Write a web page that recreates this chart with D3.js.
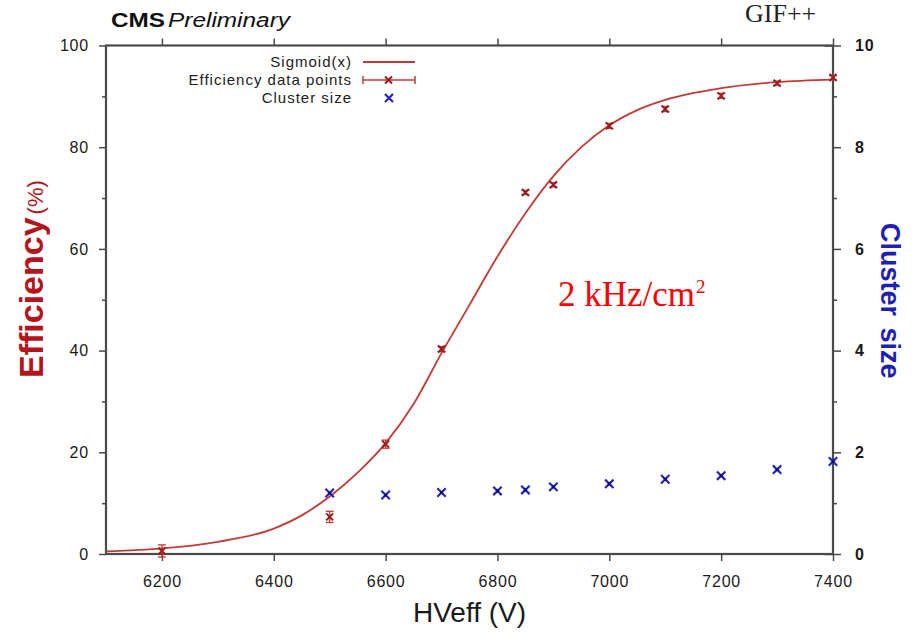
<!DOCTYPE html>
<html><head><meta charset="utf-8">
<script src="https://cdn.jsdelivr.net/npm/d3@7"></script>
<style>
body{margin:0;background:#fff;}
svg{display:block;}
</style></head>
<body><svg id="chart" width="914" height="634" font-family="Liberation Sans, Arial, sans-serif"></svg>
<script>
// ---- data ----
const hvEff = [6200, 6500, 6600, 6700, 6850, 6900, 7000, 7100, 7200, 7300, 7400];
const efficiency = [0.6, 7.3, 21.6, 40.3, 71.1, 72.6, 84.2, 87.5, 90.1, 92.6, 93.7];
const effErr = [1.2, 1.1, 0.8, 0.5, 0.4, 0.4, 0.5, 0.5, 0.5, 0.4, 0.4];
const hvCluster = [6500, 6600, 6700, 6800, 6850, 6900, 7000, 7100, 7200, 7300, 7400];
const clusterSize = [1.20, 1.16, 1.21, 1.24, 1.26, 1.32, 1.38, 1.47, 1.54, 1.66, 1.82];
const sigmoidHV = [6100, 6200, 6300, 6400, 6450, 6500, 6550, 6600, 6650, 6700, 6750, 6800, 6850, 6900, 6950, 7000, 7050, 7100, 7200, 7300, 7400];
const sigmoidEff = [0.5, 1.1, 2.4, 5.0, 7.6, 11.3, 16.0, 21.8, 29.5, 39.5, 49.0, 58.5, 67.0, 74.3, 80.0, 84.3, 87.3, 89.3, 91.6, 92.8, 93.3];
const xTicks = [6200, 6400, 6600, 6800, 7000, 7200, 7400];
const yLeftTicks = [0, 20, 40, 60, 80, 100];
const yLeftMinor = [10, 30, 50, 70, 90];
const yRightTicks = [0, 2, 4, 6, 8, 10];
const yRightMinor = [1, 3, 5, 7, 9];
const legendLabels = ["Sigmoid(x)", "Efficiency data points", "Cluster size"];

// ---- layout ----
const L = 106, R = 833, T = 45.5, B = 554;
const svg = d3.select("#chart");
const x = d3.scaleLinear().domain([6100, 7400]).range([L, R]);
const yL = d3.scaleLinear().domain([0, 100]).range([B, T]);
const yR = d3.scaleLinear().domain([0, 10]).range([B, T]);

const frameCol = "#4a4a4a";
const curveCol = "#c23a36";
const markCol = "#9a1c1c";
const errCol = "#c43a3a";
const blue = "#2424c8";
const sans = "Liberation Sans, Arial, sans-serif";
const serif = "Liberation Serif, Times New Roman, serif";

function styleAxis(g, fs, bold) {
  g.select(".domain").remove();
  g.selectAll(".tick line").attr("stroke", frameCol).attr("stroke-width", 1.5);
  g.selectAll(".tick text").attr("fill", "#1a1a1a").attr("font-size", fs)
    .style("font-family", sans)
    .attr("font-weight", bold ? "bold" : "normal").attr("letter-spacing", "0.8px");
}
svg.append("g").attr("transform", `translate(0,${B})`)
  .call(d3.axisBottom(x).tickValues(xTicks).tickSize(7).tickPadding(15).tickFormat(d3.format("d")))
  .call(g => styleAxis(g, 16, false));
svg.append("g").attr("transform", `translate(0,${T})`)
  .call(d3.axisTop(x).tickValues(xTicks).tickSize(7).tickFormat(""))
  .call(g => styleAxis(g, 16, false));
svg.append("g").attr("transform", `translate(${L},0)`)
  .call(d3.axisLeft(yL).tickValues(yLeftTicks).tickSize(7).tickPadding(10))
  .call(g => styleAxis(g, 16, false));
svg.append("g").attr("transform", `translate(${L},0)`)
  .call(d3.axisLeft(yL).tickValues(yLeftMinor).tickSize(4).tickFormat(""))
  .call(g => styleAxis(g, 16, false));
svg.append("g").attr("transform", `translate(${R},0)`)
  .call(d3.axisRight(yR).tickValues(yRightTicks).tickSize(8).tickPadding(14))
  .call(g => styleAxis(g, 16, true));
svg.append("g").attr("transform", `translate(${R},0)`)
  .call(d3.axisRight(yR).tickValues(yRightMinor).tickSize(4).tickFormat(""))
  .call(g => styleAxis(g, 16, false));
svg.append("g").attr("transform", `translate(${R},0)`)
  .call(d3.axisLeft(yR).tickValues([0, 10]).tickSize(8).tickFormat(""))
  .call(g => styleAxis(g, 16, false));

// frame
svg.append("rect").attr("x", L).attr("y", T).attr("width", R - L).attr("height", B - T)
  .attr("fill", "none").attr("stroke", frameCol).attr("stroke-width", 2.2);

// sigmoid curve
const line = d3.line().x(d => x(d[0])).y(d => yL(d[1])).curve(d3.curveMonotoneX);
svg.append("path").datum(d3.zip(sigmoidHV, sigmoidEff)).attr("d", line)
  .attr("fill", "none").attr("stroke", curveCol).attr("stroke-width", 1.8);

// efficiency points with error bars
const eg = svg.append("g");
d3.zip(hvEff, efficiency, effErr).forEach(([h, e, er]) => {
  const cx = x(h), top = yL(e + er), bot = yL(e - er);
  eg.append("line").attr("x1", cx).attr("x2", cx).attr("y1", top).attr("y2", bot).attr("stroke", errCol).attr("stroke-width", 1.3);
  [top, bot].forEach(yy => eg.append("line").attr("x1", cx - 4).attr("x2", cx + 4).attr("y1", yy).attr("y2", yy).attr("stroke", errCol).attr("stroke-width", 1.3));
  const s = 3.5, cy = yL(e);
  eg.append("path").attr("d", `M${cx - s},${cy - s}L${cx + s},${cy + s}M${cx - s},${cy + s}L${cx + s},${cy - s}`)
    .attr("stroke", markCol).attr("stroke-width", 2);
});

// cluster size points
const cg = svg.append("g");
d3.zip(hvCluster, clusterSize).forEach(([h, c]) => {
  const cx = x(h), cy = yR(c), s = 4.2;
  cg.append("path").attr("d", `M${cx - s},${cy - s}L${cx + s},${cy + s}M${cx - s},${cy + s}L${cx + s},${cy - s}`)
    .attr("stroke", blue).attr("stroke-width", 2.2);
  cg.append("rect").attr("x", cx - 1.5).attr("y", cy - 1.5).attr("width", 3).attr("height", 3).attr("fill", "#10106a");
});

// legend
const legY = [62, 80, 98];
const lg = svg.append("g");
legendLabels.forEach((t, i) => {
  lg.append("text").attr("x", 352).attr("y", legY[i]).attr("dy", "0.35em").attr("text-anchor", "end")
    .attr("font-size", 15).attr("letter-spacing", "1px").attr("fill", "#222").style("font-family", sans).text(t);
});
lg.append("line").attr("x1", 363).attr("x2", 415).attr("y1", legY[0]).attr("y2", legY[0]).attr("stroke", curveCol).attr("stroke-width", 1.8);
lg.append("line").attr("x1", 363).attr("x2", 415).attr("y1", legY[1]).attr("y2", legY[1]).attr("stroke", errCol).attr("stroke-width", 1.5);
[363, 415].forEach(xx => lg.append("line").attr("x1", xx).attr("x2", xx).attr("y1", legY[1] - 4).attr("y2", legY[1] + 4).attr("stroke", errCol).attr("stroke-width", 1.5));
lg.append("path").attr("d", `M385,${legY[1] - 3.5}L392,${legY[1] + 3.5}M385,${legY[1] + 3.5}L392,${legY[1] - 3.5}`).attr("stroke", markCol).attr("stroke-width", 2);
lg.append("path").attr("d", `M385,${legY[2] - 4}L393,${legY[2] + 4}M385,${legY[2] + 4}L393,${legY[2] - 4}`).attr("stroke", blue).attr("stroke-width", 2.2);

// titles
svg.append("text").attr("x", 111).attr("y", 27).attr("font-size", 20).attr("font-weight", "bold").style("font-family", sans)
  .attr("textLength", 54).attr("lengthAdjust", "spacingAndGlyphs").attr("fill", "#111").text("CMS");
svg.append("text").attr("x", 168).attr("y", 27).attr("font-size", 20).attr("font-style", "italic").style("font-family", sans)
  .attr("textLength", 122).attr("lengthAdjust", "spacingAndGlyphs").attr("fill", "#111").text("Preliminary");
svg.append("text").attr("x", 745).attr("y", 22).attr("font-size", 26)
  .style("font-family", serif).attr("fill", "#222").text("GIF++");

const ann = svg.append("text").attr("x", 558).attr("y", 306).attr("font-size", 35)
  .style("font-family", serif).attr("fill", "#ff0000");
ann.append("tspan").text("2 kHz/cm");
ann.append("tspan").attr("font-size", 19).attr("dx", 1).attr("dy", -13).text("2");

svg.append("text").attr("x", (L + R) / 2).attr("y", 622).attr("text-anchor", "middle").style("font-family", sans)
  .attr("font-size", 28).attr("fill", "#1a1a1a").text("HVeff (V)");

const yt = svg.append("text").attr("transform", "translate(43,378) rotate(-90)").attr("fill", "#b5141c").style("font-family", sans);
yt.append("tspan").attr("font-size", 34).attr("font-weight", "bold").text("Efficiency");
yt.append("tspan").attr("font-size", 22).attr("dx", 3).text("(%)");

svg.append("text").attr("transform", "translate(881,223) rotate(90)").attr("font-size", 27).style("font-family", sans)
  .attr("font-weight", "bold").attr("word-spacing", "4px").attr("fill", "#1f1fb4").text("Cluster size");
</script></body></html>
